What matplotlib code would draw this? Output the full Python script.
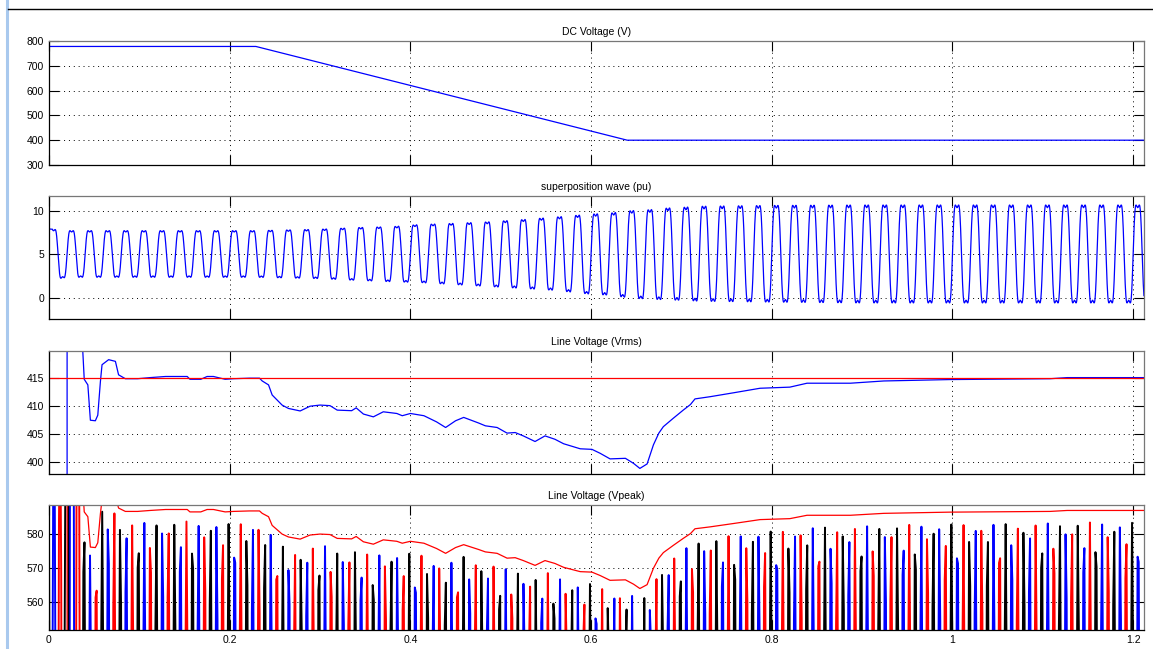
import numpy as np
import matplotlib
matplotlib.use("Agg")
import matplotlib.pyplot as plt
from matplotlib.lines import Line2D

# ---- data ----
t_end = 1.212
f_grid = 50.0
v_ref = 415

# DC link voltage (V)
dc_t = [0.0, 0.229, 0.640, t_end]
dc_v = [778, 778, 400, 400]

# superposition wave (pu): envelope of the humps and troughs
sw_t = [0.0, 0.02, 0.23, 0.30, 0.34, 0.38, 0.41, 0.44, 0.485, 0.525, 0.56,
        0.60, 0.62, 0.645, 0.665, 0.685, 0.705, 0.72, 0.80, 0.90, t_end]
sw_peak = [7.9, 7.7, 7.7, 7.86, 8.05, 8.16, 8.4, 8.5, 8.7, 8.97, 9.25,
           9.6, 9.7, 10.0, 10.1, 10.3, 10.4, 10.5, 10.6, 10.65, 10.65]
sw_trough = [2.0, 2.35, 2.35, 2.2, 2.0, 1.84, 1.75, 1.57, 1.3, 1.07, 0.85,
             0.4, 0.3, -0.05, -0.15, -0.25, -0.3, -0.4, -0.5, -0.6, -0.6]

# line voltage rms (V)
vrms_t = [0.0, 0.0199, 0.0201, 0.036, 0.0373, 0.039, 0.043, 0.0458, 0.0513,
          0.054, 0.0569, 0.0587, 0.066, 0.0735, 0.077, 0.0845, 0.098, 0.112,
          0.129, 0.153, 0.156, 0.168, 0.175, 0.182, 0.195, 0.204, 0.222,
          0.233, 0.236, 0.243, 0.247, 0.258, 0.265, 0.278, 0.289, 0.300,
          0.311, 0.319, 0.335, 0.340, 0.348, 0.359, 0.370, 0.385, 0.391,
          0.400, 0.415, 0.429, 0.439, 0.450, 0.459, 0.4755, 0.483, 0.496,
          0.507, 0.516, 0.525, 0.538, 0.549, 0.560, 0.5696, 0.588, 0.601,
          0.610, 0.621, 0.638, 0.647, 0.654, 0.662, 0.669, 0.675, 0.680,
          0.691, 0.702, 0.710, 0.715, 0.732, 0.758, 0.787, 0.820, 0.839,
          0.887, 0.924, 0.997, 1.108, 1.127, t_end]
vrms_v = [0, 0, 600, 440, 420, 414.7, 413.7, 407.4, 407.3,
          408.3, 414.3, 417.3, 418.2, 417.9, 415.5, 414.8, 414.8, 415.0,
          415.2, 415.2, 414.7, 414.7, 415.2, 415.2, 414.7, 414.8, 414.9,
          414.9, 414.4, 413.7, 411.9, 410.1, 409.5, 409.05, 409.9, 410.1,
          410.0, 409.2, 409.1, 409.6, 408.5, 408.0, 408.9, 408.6, 408.2,
          408.6, 408.2, 407.1, 406.1, 407.3, 407.9, 406.9, 406.4, 406.1,
          405.1, 405.2, 404.6, 403.6, 404.6, 404.0, 403.2, 402.3, 402.2,
          401.5, 400.5, 400.6, 399.7, 398.8, 399.6, 403.0, 405.1, 406.25,
          407.75, 409.2, 410.2, 411.2, 411.6, 412.3, 413.1, 413.3, 414.0,
          414.0, 414.4, 414.65, 414.8, 415.0, 415.0]

x_ticks = [0, 0.2, 0.4, 0.6, 0.8, 1.0, 1.2]
x_labels = ['0', '0.2', '0.4', '0.6', '0.8', '1', '1.2']

# ---- waveforms ----
w = 2 * np.pi * f_grid
t = np.arange(0, t_end, 1e-4)
th = w * (t - 0.005) + np.pi / 2
k3 = 0.18
shape = np.sin(th) + k3 * np.sin(3 * th)
grid_th = np.linspace(0, np.pi, 2000)
shape = shape / (np.sin(grid_th) + k3 * np.sin(3 * grid_th)).max()
pk = np.interp(t, sw_t, sw_peak)
tr = np.interp(t, sw_t, sw_trough)
sw = (pk + tr) / 2 + (pk - tr) / 2 * shape
sw[t < 0.004] = pk[t < 0.004]

# sampled three-phase line voltages (scope sample step)
ts = np.arange(0, t_end, 0.02 / 16.3)
amp = np.sqrt(2) * np.interp(ts, vrms_t, vrms_v) * 0.994
amp[ts < 0.0201] = np.sqrt(2) * 440
ph = w * (ts - 0.0055)
va = amp * np.cos(ph)
vb = amp * np.cos(ph - 2 * np.pi / 3)
vc = amp * np.cos(ph - 4 * np.pi / 3)
vpk = np.sqrt(2) * np.array(vrms_v)

# ---- figure ----
plt.rcParams['font.family'] = ['Liberation Sans', 'DejaVu Sans']
fig = plt.figure(figsize=(11.53, 6.49), dpi=100)

W, H = 1153.0, 649.0
left, width = 49 / W, 1095 / W
boxes = [(41, 165), (195.7, 319), (350.7, 474.3), (505, 629.7)]
axes = [fig.add_axes([left, 1 - b / H, width, (b - tp) / H]) for tp, b in boxes]

blue, red = '#0000ff', '#ff0000'

ax = axes[0]
ax.plot(dc_t, dc_v, color=blue, lw=0.9)
ax.set_ylim(300, 800)
ax.set_yticks([300, 400, 500, 600, 700, 800])
ax.set_title('DC Voltage (V)', fontsize=7.5, pad=4)

ax = axes[1]
ax.plot(t, sw, color=blue, lw=0.9)
ax.set_ylim(-2.45, 11.72)
ax.set_yticks([0, 5, 10])
ax.set_title('superposition wave (pu)', fontsize=7.5, pad=4)

ax = axes[2]
ax.plot(vrms_t, vrms_v, color=blue, lw=0.9)
ax.axhline(v_ref, color=red, lw=0.9)
ax.set_ylim(397.75, 419.8)
ax.set_yticks([400, 405, 410, 415])
ax.set_title('Line Voltage (Vrms)', fontsize=7.5, pad=4)

ax = axes[3]
ax.plot(ts, va, color=blue, lw=1.4)
ax.plot(ts, vb, color=red, lw=1.4)
ax.plot(ts, vc, color='k', lw=1.4)
ax.plot(vrms_t, vpk, color=red, lw=0.9)
ax.set_ylim(551.9, 588.5)
ax.set_yticks([560, 570, 580])
ax.set_title('Line Voltage (Vpeak)', fontsize=7.5, pad=4)

for i, ax in enumerate(axes):
    ax.set_xlim(0, t_end)
    ax.set_xticks(x_ticks)
    if i == 3:
        ax.set_xticklabels(x_labels)
    else:
        ax.set_xticklabels([])
    ax.grid(True, color='k', linestyle=(0, (1, 4)), linewidth=0.7)
    ax.tick_params(direction='in', length=7, width=0.8, top=True, right=True,
                   labelsize=7.5, pad=3.5, colors='k')
    for s in ['left', 'bottom']:
        ax.spines[s].set_color('k')
    for s in ['top', 'right']:
        ax.spines[s].set_color('#777777')
    for s in ax.spines.values():
        s.set_linewidth(0.9)

# window borders
fig.add_artist(Line2D([6.5 / W, 6.5 / W], [0, 1], color='#a9c9ee', lw=2.2,
                      transform=fig.transFigure))
fig.add_artist(Line2D([8 / W, 1], [1 - 9.3 / H, 1 - 9.3 / H], color='k', lw=1.0,
                      transform=fig.transFigure))

fig.savefig('out.png', dpi=100)
